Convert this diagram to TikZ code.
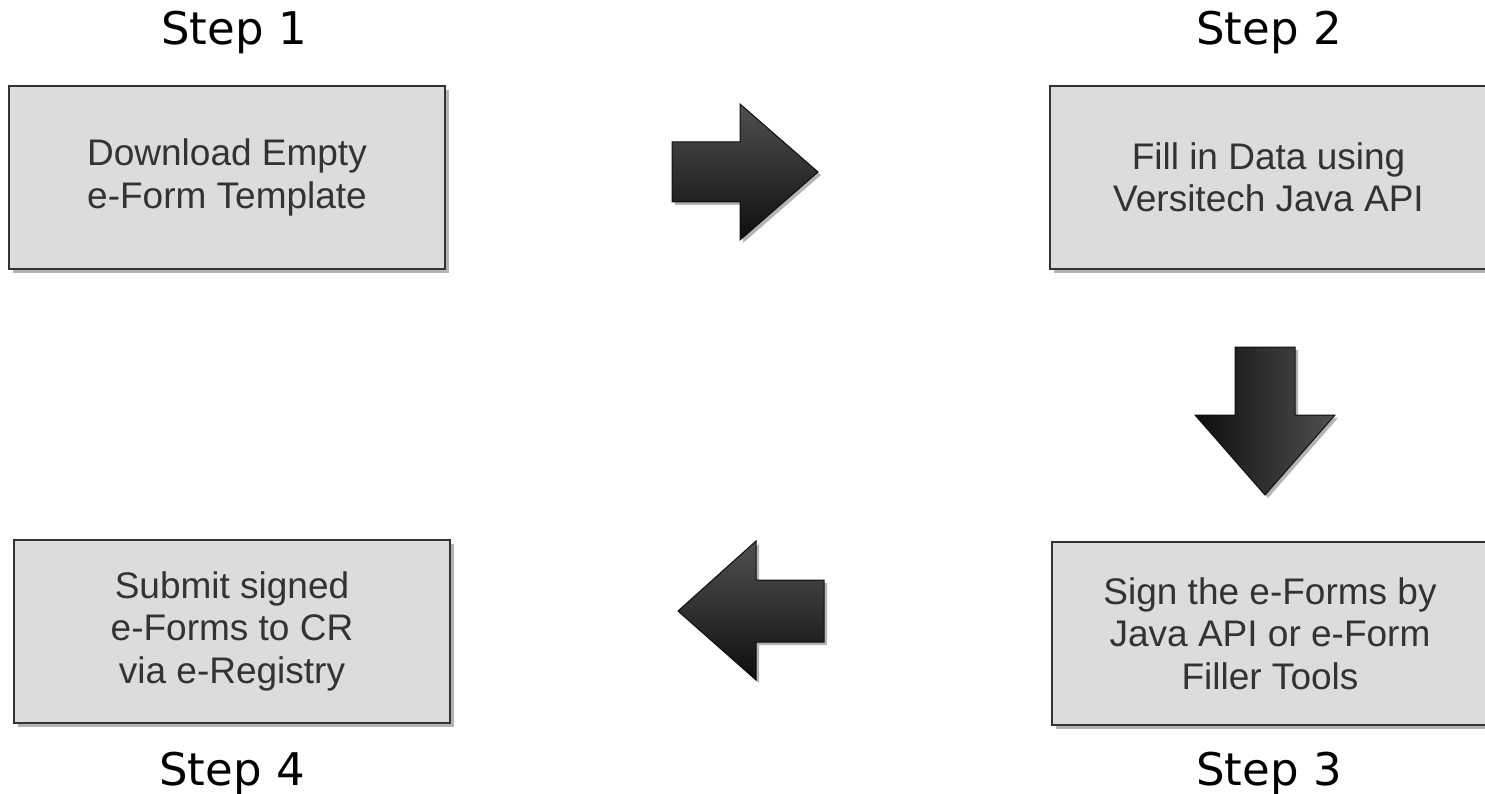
\documentclass[tikz,border=0pt]{standalone}
\usepackage{fontspec}
\setmainfont{Liberation Sans}
\newfontfamily\stepfont{DejaVu Sans}
\usetikzlibrary{shadows}
\definecolor{boxfill}{HTML}{DCDCDC}
\definecolor{boxline}{HTML}{333333}
\definecolor{boxtext}{HTML}{333333}
\definecolor{shadowgray}{HTML}{B4B4B4}
\definecolor{arrowdark}{HTML}{0E0E0E}
\definecolor{arrowlight}{HTML}{505050}
\tikzset{
  stepbox/.style={draw=boxline, line width=2pt, fill=boxfill, minimum width=436pt, minimum height=183pt,
    inner sep=0pt, align=center, text=boxtext, font=\fontsize{37}{42.5}\selectfont,
    drop shadow={shadow xshift=4pt, shadow yshift=-4pt, fill=shadowgray, opacity=1}},
  steplabel/.style={anchor=base, font=\stepfont\fontsize{45}{50}\selectfont, text=black, inner sep=0pt},
  blockarrow/.style={draw=arrowdark, line width=1pt},
  arrowshadow/.style={fill=shadowgray, draw=none}
}
\begin{document}
\begin{tikzpicture}[x=1pt,y=-1pt]
\useasboundingbox (0,0) rectangle (1485,794);
% boxes
\node[stepbox] (b1) at (227,177.5) {Download Empty\\e-Form Template};
\node[stepbox, minimum width=437pt] (b2) at (1268.5,177.5) {Fill in Data using\\Versitech Java API};
\node[stepbox] (b3) at (1270,633.5) {Sign the e-Forms by\\Java API or e-Form\\Filler Tools};
\node[stepbox] (b4) at (232,631) {Submit signed\\e-Forms to CR\\via e-Registry};
% labels
\node[steplabel] (s1) at (234,45) {Step 1};
\node[steplabel] (s2) at (1269,45) {Step 2};
\node[steplabel] (s3) at (1269,785) {Step 3};
\node[steplabel] (s4) at (232,785) {Step 4};
% right arrow (b1 -> b2)
\fill[arrowshadow, shift={(3,3)}] (672,142) -- (740,142) -- (740,104) -- (818,172) -- (740,240) -- (740,202) -- (672,202) -- cycle;
\shade[blockarrow, top color=arrowlight, bottom color=arrowdark] (672,142) -- (740,142) -- (740,104) -- (818,172) -- (740,240) -- (740,202) -- (672,202) -- cycle;
% down arrow (b2 -> b3)
\fill[arrowshadow, shift={(3,3)}] (1235,347) -- (1295,347) -- (1295,415) -- (1335,415) -- (1265,495) -- (1195,415) -- (1235,415) -- cycle;
\shade[blockarrow, left color=arrowdark, right color=arrowlight] (1235,347) -- (1295,347) -- (1295,415) -- (1335,415) -- (1265,495) -- (1195,415) -- (1235,415) -- cycle;
% left arrow (b3 -> b4)
\fill[arrowshadow, shift={(3,3)}] (824,580) -- (756,580) -- (756,541) -- (678,611) -- (756,680) -- (756,642) -- (824,642) -- cycle;
\shade[blockarrow, top color=arrowlight, bottom color=arrowdark] (824,580) -- (756,580) -- (756,541) -- (678,611) -- (756,680) -- (756,642) -- (824,642) -- cycle;
\end{tikzpicture}
\end{document}
